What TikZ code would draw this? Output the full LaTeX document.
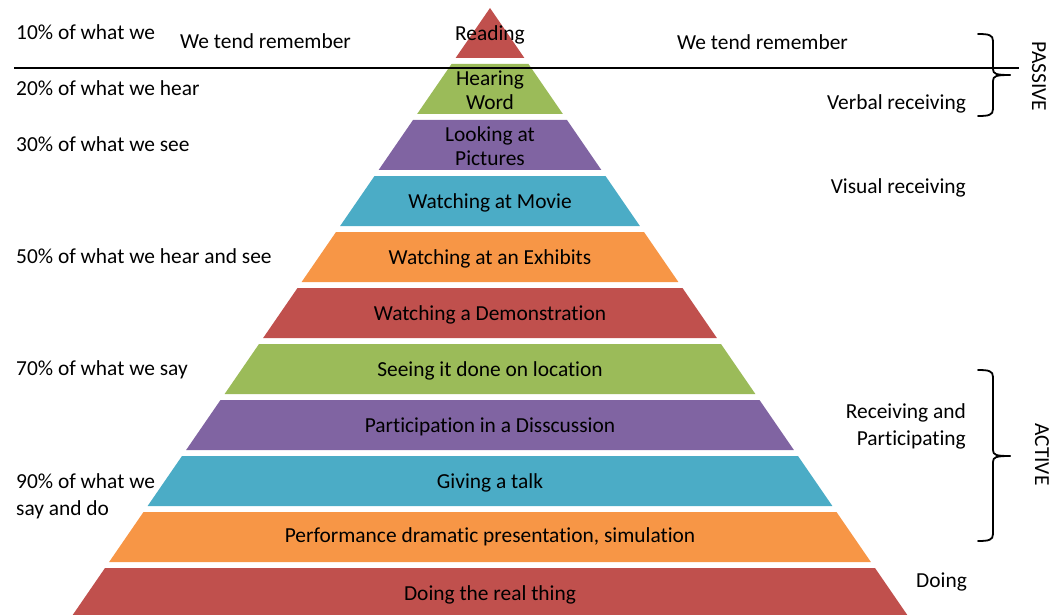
\documentclass[tikz,border=0pt]{standalone}
\usepackage{fontspec}
\setmainfont{Carlito}[Ligatures=NoCommon]
\definecolor{cred}{HTML}{C0504D}
\definecolor{cgreen}{HTML}{9BBB59}
\definecolor{cpurple}{HTML}{8064A2}
\definecolor{caqua}{HTML}{4BACC6}
\definecolor{corange}{HTML}{F79646}
\begin{document}
\begin{tikzpicture}[x=1pt,y=-1pt,
  lbl/.style={font=\fontsize{21.4}{27}\selectfont, inner sep=0pt, text=black, yshift=-1.5pt},
  lft/.style={lbl, anchor=west, align=left},
  rgt/.style={lbl, anchor=east, align=right},
  mid/.style={lbl, align=center, font=\fontsize{21.4}{23.5}\selectfont},
  bracepath/.style={line width=1.8pt, line cap=round}]
\useasboundingbox (0,0) rectangle (1055,615);
% pyramid
\fill[cred] (490,8) -- (524.4,58) -- (455.6,58) -- cycle;
\foreach \i/\c in {1/cgreen,2/cpurple,3/caqua,4/corange,5/cred,6/cgreen,7/cpurple,8/caqua,9/corange,10/cred}{
  \pgfmathsetmacro\t{8+56*\i}
  \pgfmathsetmacro\b{\t+50}
  \pgfmathsetmacro\wt{0.6875*(\t-8)}
  \pgfmathsetmacro\wb{0.6875*(\b-8)}
  \fill[\c] ({490-\wt},\t) -- ({490+\wt},\t) -- ({490+\wb},\b) -- ({490-\wb},\b) -- cycle;
}
% pyramid labels
\node[mid] (p0) at (490,33) {Reading};
\node[mid] (p1) at (490,88.5) {Hearing\\Word};
\node[mid] (p2) at (490,144.5) {Looking at\\Pictures};
\node[mid] (p3) at (490,201) {Watching at Movie};
\node[mid] (p4) at (490,257) {Watching at an Exhibits};
\node[mid] (p5) at (490,313) {Watching a Demonstration};
\node[mid] (p6) at (490,369) {Seeing it done on location};
\node[mid] (p7) at (490,425) {Participation in a Disscussion};
\node[mid] (p8) at (490,481) {Giving a talk};
\node[mid] (p9) at (490,535) {Performance dramatic presentation, simulation};
\node[mid] (p10) at (490,593) {Doing the real thing};
% left labels
\node[lft] (l1) at (16,31) {10\% of what we};
\node[lft] (t1) at (180,40) {We tend remember};
\node[lft] (t2) at (677,41) {We tend remember};
\node[lft] (l2) at (16,87) {20\% of what we hear};
\node[lft] (l3) at (16,143) {30\% of what we see};
\node[lft] (l5) at (16,255) {50\% of what we hear and see};
\node[lft] (l7) at (16,368) {70\% of what we say};
\node[lft] (l9) at (16,494.5) {90\% of what we\\say and do};
% right labels
\node[rgt] (r1) at (966,102) {Verbal receiving};
\node[rgt] (r2) at (966,186) {Visual receiving};
\node[rgt] (r3) at (966,424.5) {Receiving and\\Participating};
\node[lft] (r4) at (916,580) {Doing};
% braces
\draw[bracepath] (978,34) .. controls (989,34) and (993,35) .. (993,41) -- (993,69)
  .. controls (993,74) and (996,75) .. (1010,75);
\draw[bracepath] (1010,75) .. controls (996,75) and (993,76) .. (993,81) -- (993,109)
  .. controls (993,115) and (989,116) .. (978,116);
\draw[bracepath] (978,370) .. controls (989,370) and (993,371) .. (993,377) -- (993,450)
  .. controls (993,455) and (996,456) .. (1010,456);
\draw[bracepath] (1010,456) .. controls (996,456) and (993,457) .. (993,462) -- (993,534)
  .. controls (993,540) and (989,541) .. (978,541);
\node[lbl, rotate=-90, yshift=0pt] (passive) at (1039,75) {PASSIVE};
\node[lbl, rotate=-90, yshift=0pt] (active) at (1042,453) {ACTIVE};
% horizontal line
\coordinate (hl) at (14,68);
\coordinate (hr) at (1019,68);
\draw[line width=2pt] (hl) -- (hr);
\end{tikzpicture}
\end{document}
